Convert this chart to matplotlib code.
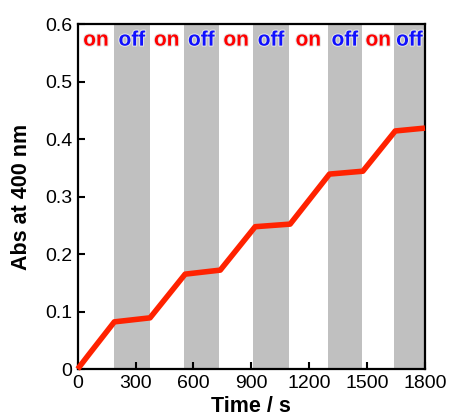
import matplotlib
matplotlib.use("Agg")
import matplotlib.pyplot as plt
import matplotlib.patheffects as pe

plt.rcParams['font.family'] = ['Liberation Sans', 'DejaVu Sans']

# Data
time_s = [0, 55, 190, 375, 557, 739, 920, 1101, 1305, 1478, 1646, 1800]
absorb = [0.0, 0.024, 0.082, 0.089, 0.165, 0.172, 0.2475, 0.252, 0.339, 0.344, 0.414, 0.419]
off_starts = [190, 550, 910, 1295, 1640]
off_ends = [373, 733, 1096, 1476, 1800]
on_starts = [0, 373, 733, 1096, 1476]
on_ends = [190, 550, 910, 1295, 1640]
xticks = [0, 300, 600, 900, 1200, 1500, 1800]
yticks = [0, 0.1, 0.2, 0.3, 0.4, 0.5, 0.6]
yticklabels = ['0', '0.1', '0.2', '0.3', '0.4', '0.5', '0.6']

fig = plt.figure(figsize=(4.49, 4.19), dpi=100)
ax = fig.add_axes([0.173, 0.1193, 0.9465 - 0.173, 0.9427 - 0.1193])

for s, e in zip(off_starts, off_ends):
    ax.axvspan(s, e, color='#c0c0c0', lw=0, zorder=0)

ax.plot(time_s, absorb, color='#ff2200', lw=4.0, solid_joinstyle='round',
        solid_capstyle='butt', zorder=3, clip_on=False)

glow = [pe.withStroke(linewidth=1.5, foreground='#e4e4e4')]
for s, e in zip(on_starts, on_ends):
    ax.text((s + e) / 2, 0.572, 'on', color='#ff0000', fontsize=15, fontweight='bold',
            ha='center', va='center', path_effects=glow, zorder=4)
for s, e in zip(off_starts, off_ends):
    ax.text((s + e) / 2, 0.572, 'off', color='#1010ff', fontsize=15, fontweight='bold',
            ha='center', va='center', path_effects=glow, zorder=4)

ax.set_xlim(0, 1800)
ax.set_ylim(0, 0.6)
ax.set_xticks(xticks)
ax.set_xticklabels([str(t) for t in xticks])
ax.set_yticks(yticks)
ax.set_yticklabels(yticklabels)
ax.tick_params(direction='in', length=5, width=1.5, labelsize=14, pad=4, top=False, right=False)
for sp in ax.spines.values():
    sp.set_linewidth(1.6)

ax.set_xlabel('Time / s', fontsize=15.5, fontweight='bold', labelpad=3)
ax.set_ylabel('Abs at 400 nm', fontsize=15.5, fontweight='bold', labelpad=9)

fig.savefig('out.png', dpi=100)
